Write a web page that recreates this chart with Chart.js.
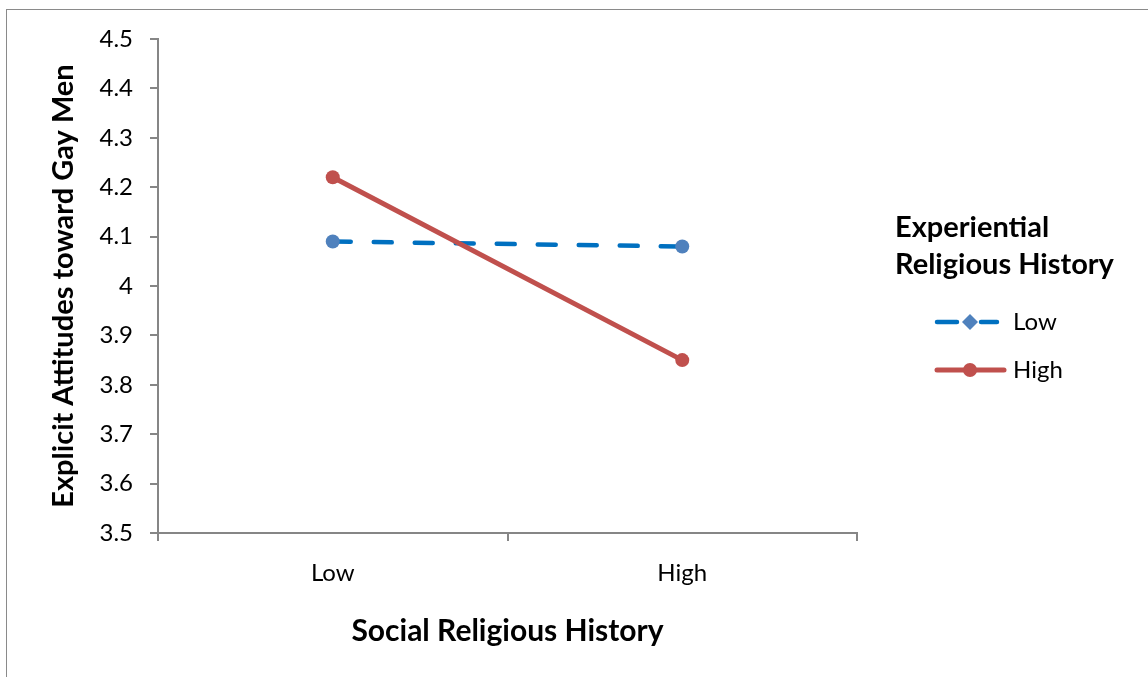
<!DOCTYPE html>
<html>
<head>
<meta charset="utf-8">
<script src="https://cdn.jsdelivr.net/npm/chart.js@4/dist/chart.umd.min.js"></script>
<style>
  html, body { margin: 0; padding: 0; background: #fff; overflow: hidden; }
  #wrap { position: relative; width: 1148px; height: 677px; }
  #frame { position: absolute; left: 6px; top: 9px; width: 2000px; height: 2000px;
           border: 1.5px solid #8a8a8a; box-sizing: border-box; pointer-events: none; }
  canvas { position: absolute; left: 0; top: 0; }
</style>
</head>
<body>
<div id="wrap">
  <div id="frame"></div>
  <canvas id="myChart" width="1148" height="677"></canvas>
</div>
<script>
// data
const categories = ['Low', 'High'];
const lowExperiential = [4.09, 4.08];
const highExperiential = [4.22, 3.85];
const seriesNames = ['Low', 'High'];
const legendTitle = ['Experiential', 'Religious History'];
const yMin = 3.5, yMax = 4.5, yStep = 0.1;

const FONT = 'Lato, "Open Sans", sans-serif';
const axisGray = '#868686';

// custom legend on the right with a two-line title
const sideLegend = {
  id: 'sideLegend',
  afterDraw(chart) {
    const ctx = chart.ctx;
    ctx.save();
    ctx.fillStyle = '#000';
    ctx.textBaseline = 'alphabetic';
    ctx.font = 'bold 29px ' + FONT;
    ctx.fillText(legendTitle[0], 895, 237);
    ctx.fillText(legendTitle[1], 895, 274);

    const rows = [322, 370];
    chart.data.datasets.forEach((ds, i) => {
      const y = rows[i];
      ctx.strokeStyle = ds.borderColor;
      ctx.lineWidth = ds.borderWidth;
      ctx.lineCap = 'round';
      ctx.setLineDash(ds.borderDash && ds.borderDash.length ? [20, 24] : []);
      ctx.beginPath();
      ctx.moveTo(937, y);
      ctx.lineTo(i === 0 ? 997 : 1004, y);
      ctx.stroke();
      ctx.setLineDash([]);
      ctx.fillStyle = ds.pointBackgroundColor;
      ctx.beginPath();
      if (i === 0) {
        ctx.moveTo(970, y - 8);
        ctx.lineTo(978, y);
        ctx.lineTo(970, y + 8);
        ctx.lineTo(962, y);
        ctx.closePath();
      } else {
        ctx.arc(970, y, 7, 0, Math.PI * 2);
      }
      ctx.fill();
      ctx.fillStyle = '#000';
      ctx.font = '24px ' + FONT;
      ctx.textBaseline = 'middle';
      ctx.fillText(ds.label, 1013, y);
      ctx.textBaseline = 'alphabetic';
    });
    ctx.restore();
  }
};

const ctx = document.getElementById('myChart').getContext('2d');
const myChart = new Chart(ctx, {
  type: 'line',
  data: {
    labels: categories,
    datasets: [{
      label: seriesNames[0],
      data: lowExperiential,
      borderColor: '#0070C0',
      borderWidth: 4.5,
      borderDash: [18, 23],
      borderCapStyle: 'round',
      pointBackgroundColor: '#4F81BD',
      pointBorderColor: '#4F81BD',
      pointRadius: 7,
      pointBorderWidth: 0,
      order: 1
    }, {
      label: seriesNames[1],
      data: highExperiential,
      borderColor: '#C0504D',
      borderWidth: 5,
      borderCapStyle: 'round',
      pointBackgroundColor: '#C0504D',
      pointBorderColor: '#C0504D',
      pointRadius: 7,
      pointBorderWidth: 0,
      order: 0
    }]
  },
  options: {
    responsive: false,
    animation: false,
    layout: { padding: { left: 8, right: 291, top: 39, bottom: 0 } },
    plugins: {
      legend: { display: false },
      tooltip: { enabled: false }
    },
    scales: {
      x: {
        offset: true,
        grid: { offset: true, drawOnChartArea: false, drawTicks: true, tickLength: 8, color: axisGray, lineWidth: 2 },
        border: { display: true, color: axisGray, width: 2 },
        ticks: { color: '#000', font: { family: FONT, size: 24 }, padding: 18 },
        title: {
          display: true,
          text: 'Social Religious History',
          color: '#000',
          font: { family: FONT, size: 30, weight: 'bold' },
          padding: { top: 0, bottom: 28 }
        },
        afterFit(scale) { scale.height = 144; }
      },
      y: {
        min: yMin,
        max: yMax,
        grid: { drawOnChartArea: false, drawTicks: true, tickLength: 8, color: axisGray, lineWidth: 2 },
        border: { display: true, color: axisGray, width: 2 },
        ticks: {
          stepSize: yStep,
          color: '#000',
          font: { family: FONT, size: 24 },
          padding: 17,
          callback: v => Math.round(v * 10) / 10
        },
        title: {
          display: true,
          text: 'Explicit Attitudes toward Gay Men',
          color: '#000',
          font: { family: FONT, size: 29, weight: 'bold' },
          padding: { top: 38, bottom: 0 }
        },
        afterFit(scale) { scale.width = 150; }
      }
    }
  },
  plugins: [sideLegend]
});
</script>
</body>
</html>
